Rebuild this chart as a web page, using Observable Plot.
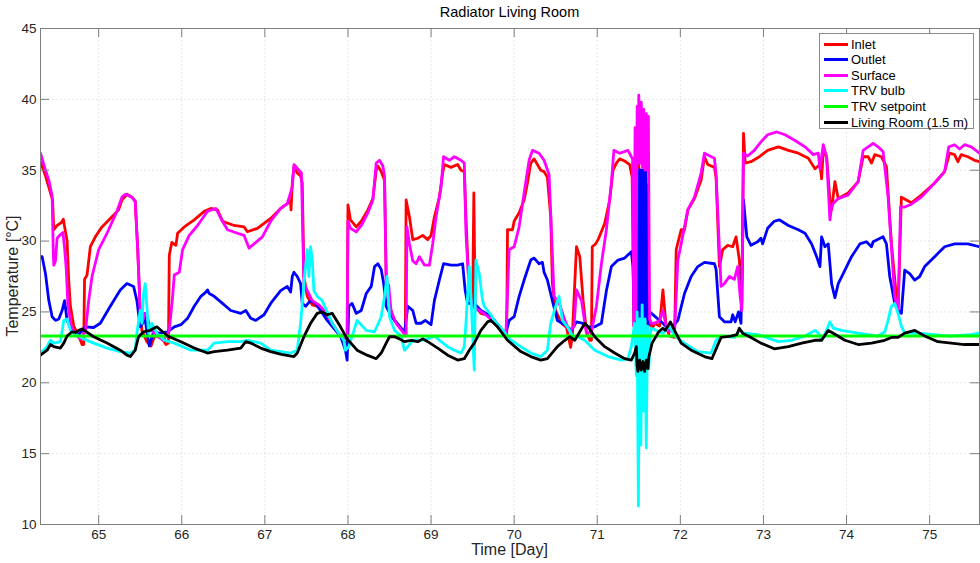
<!DOCTYPE html>
<html>
<head>
<meta charset="utf-8">
<script src="https://cdn.jsdelivr.net/npm/d3@7"></script>
<script src="https://cdn.jsdelivr.net/npm/@observablehq/plot@0.6"></script>
<style>
  html, body { margin: 0; padding: 0; background: #fff; }
  #wrap { position: relative; width: 980px; height: 563px; font-family: "Liberation Sans", Arial, Helvetica, sans-serif; }
  #chart { position: absolute; left: 0; top: 0; }
  .title { position: absolute; left: 40px; width: 939px; top: 4px; text-align: center; font-size: 14.5px; color: #000; }
  .xlabel { position: absolute; left: 40px; width: 939px; top: 541px; text-align: center; font-size: 16px; color: #262626; }
  .ylabel { position: absolute; left: 13px; top: 276px; transform: translate(-50%, -50%) rotate(-90deg); white-space: nowrap; font-size: 16px; color: #262626; }
  .legend { position: absolute; left: 819px; top: 33px; width: 155px; height: 96px; background: #fff; border: 1px solid #8c8c8c; box-sizing: border-box; }
  .legend .row { position: absolute; left: 4px; height: 16px; display: flex; align-items: center; font-size: 13px; color: #000; white-space: nowrap; }
  .legend .sw { width: 24px; height: 3px; margin-right: 3px; }
</style>
</head>
<body>
<div id="wrap">
  <div id="chart"></div>
  <div class="title">Radiator Living Room</div>
  <div class="xlabel">Time [Day]</div>
  <div class="ylabel">Temperature [°C]</div>
  <div class="legend" id="legend"></div>
</div>
<script>
// ---- data (day, °C) ----
const xTicks = [65, 66, 67, 68, 69, 70, 71, 72, 73, 74, 75];
const yTicks = [10, 15, 20, 25, 30, 35, 40, 45];
const seriesNames = ["Inlet", "Outlet", "Surface", "TRV bulb", "TRV setpoint", "Living Room (1.5 m)"];
const seriesColors = ["#ff0000", "#0000ff", "#ff00ff", "#00ffff", "#00ff00", "#000000"];

const inlet = [[64.30,35.6],[64.36,34.6],[64.42,33.4],[64.445,32.9],[64.46,30.8],[64.50,31.1],[64.55,31.3],[64.575,31.55],[64.59,31.0],[64.62,30.0],[64.64,27.2],[64.66,25.4],[64.70,24.0],[64.76,23.3],[64.80,22.7],[64.82,22.7],[64.83,27.3],[64.86,27.6],[64.90,29.6],[64.96,30.3],[65.04,31.0],[65.14,31.6],[65.24,32.2],[65.28,32.9],[65.34,33.3],[65.40,33.1],[65.44,32.8],[65.47,29.4],[65.50,25.1],[65.52,23.7],[65.58,22.9],[65.63,22.6],[65.67,23.25],[65.73,23.3],[65.79,22.9],[65.81,22.7],[65.84,22.8],[65.85,29.0],[65.88,29.9],[65.93,29.7],[65.95,30.55],[66.03,31.0],[66.15,31.5],[66.27,32.1],[66.35,32.3],[66.43,32.2],[66.49,31.4],[66.63,31.1],[66.75,31.0],[66.79,30.66],[66.91,30.9],[67.07,31.6],[67.19,32.3],[67.25,32.55],[67.31,32.8],[67.315,32.2],[67.33,34.1],[67.35,35.25],[67.39,34.8],[67.43,34.6],[67.45,34.1],[67.47,27.5],[67.51,26.1],[67.57,25.5],[67.63,25.4],[67.69,25.1],[67.75,24.66],[67.81,24.2],[67.87,23.6],[67.93,23.1],[67.97,22.8],[67.99,22.8],[68.00,32.55],[68.03,31.5],[68.10,31.0],[68.16,31.4],[68.24,32.2],[68.30,33.0],[68.34,35.0],[68.36,35.3],[68.40,34.9],[68.44,34.3],[68.46,27.5],[68.50,25.4],[68.56,24.4],[68.64,23.85],[68.69,23.6],[68.70,32.9],[68.74,31.7],[68.78,30.1],[68.84,30.2],[68.90,30.4],[68.96,30.1],[69.00,30.4],[69.04,31.7],[69.10,33.1],[69.14,34.8],[69.16,35.4],[69.24,35.2],[69.32,35.4],[69.36,35.0],[69.40,34.9],[69.42,31.7],[69.46,26.1],[69.50,25.4],[69.515,33.4],[69.53,25.4],[69.60,24.9],[69.72,24.7],[69.80,23.95],[69.88,23.5],[69.91,23.3],[69.92,30.8],[69.98,30.8],[70.00,31.4],[70.06,32.0],[70.12,32.9],[70.16,34.1],[70.20,35.5],[70.24,35.8],[70.28,35.4],[70.32,35.0],[70.36,34.9],[70.40,34.5],[70.44,31.7],[70.46,27.0],[70.50,25.1],[70.57,24.2],[70.63,23.9],[70.68,22.5],[70.70,23.3],[70.75,29.6],[70.79,28.9],[70.83,25.8],[70.87,23.6],[70.91,23.0],[70.93,23.0],[70.94,29.6],[70.98,29.8],[71.01,30.1],[71.09,31.25],[71.15,32.9],[71.19,35.0],[71.23,35.5],[71.27,35.8],[71.33,35.65],[71.39,35.4],[71.42,34.5],[71.44,24.0],[71.46,35.0],[71.48,23.5],[71.50,35.5],[71.52,24.0],[71.54,35.0],[71.56,25.0],[71.585,34.5],[71.61,24.0],[71.63,24.5],[71.66,23.8],[71.69,24.2],[71.75,24.0],[71.79,26.55],[71.83,23.95],[71.87,23.3],[71.93,23.2],[71.95,29.4],[72.01,30.8],[72.05,30.8],[72.09,32.2],[72.17,33.0],[72.25,34.3],[72.29,35.95],[72.33,35.4],[72.41,35.2],[72.43,34.5],[72.47,28.2],[72.51,29.4],[72.57,29.7],[72.63,29.6],[72.67,30.3],[72.71,28.66],[72.74,25.6],[72.76,37.6],[72.78,35.5],[72.85,35.6],[72.95,35.95],[73.05,36.4],[73.18,36.65],[73.30,36.4],[73.42,36.2],[73.54,35.85],[73.62,35.1],[73.68,35.4],[73.70,34.4],[73.72,36.4],[73.76,35.95],[73.80,32.9],[73.82,32.2],[73.86,34.2],[73.90,33.0],[74.02,33.4],[74.14,34.2],[74.20,35.95],[74.26,35.95],[74.30,35.5],[74.34,36.1],[74.42,35.95],[74.48,35.25],[74.54,29.8],[74.60,26.1],[74.62,25.1],[74.66,33.1],[74.72,32.9],[74.78,32.7],[74.90,33.25],[75.06,34.1],[75.18,34.9],[75.24,36.2],[75.30,36.1],[75.34,35.6],[75.38,36.1],[75.46,35.95],[75.54,35.7],[75.60,35.6]];

const outlet = [[64.30,28.9],[64.32,28.9],[64.36,27.7],[64.40,25.8],[64.44,24.66],[64.48,24.4],[64.52,24.5],[64.56,25.1],[64.59,25.8],[64.62,24.4],[64.68,23.7],[64.76,23.4],[64.84,23.95],[64.94,23.9],[65.02,24.2],[65.14,25.4],[65.26,26.55],[65.34,27.0],[65.42,26.8],[65.46,25.8],[65.50,23.95],[65.53,24.2],[65.55,24.9],[65.58,23.6],[65.61,22.6],[65.66,23.6],[65.72,23.5],[65.83,23.6],[65.91,23.95],[65.99,24.1],[66.07,24.55],[66.15,25.4],[66.23,26.1],[66.29,26.4],[66.31,26.55],[66.33,26.3],[66.39,26.1],[66.49,25.6],[66.59,25.1],[66.71,24.9],[66.77,25.1],[66.83,24.55],[66.89,24.4],[66.99,24.8],[67.07,25.6],[67.19,26.5],[67.27,26.8],[67.31,26.4],[67.33,27.5],[67.35,27.8],[67.39,27.5],[67.43,27.0],[67.45,25.6],[67.49,25.4],[67.55,25.8],[67.61,25.6],[67.67,25.1],[67.75,24.4],[67.83,23.85],[67.91,23.3],[67.97,22.3],[67.99,21.6],[68.01,25.4],[68.05,25.6],[68.10,24.9],[68.16,25.1],[68.22,26.3],[68.28,26.8],[68.32,28.2],[68.36,28.4],[68.40,28.0],[68.43,27.0],[68.46,25.4],[68.52,24.7],[68.64,23.85],[68.68,23.5],[68.72,25.4],[68.78,25.1],[68.82,24.2],[68.88,24.2],[68.93,24.4],[69.00,24.1],[69.04,25.8],[69.10,27.25],[69.15,28.4],[69.24,28.3],[69.32,28.3],[69.38,28.4],[69.41,26.55],[69.44,25.6],[69.52,25.6],[69.60,25.1],[69.72,24.7],[69.84,23.85],[69.90,23.5],[69.94,24.4],[70.00,24.66],[70.06,26.1],[70.12,27.25],[70.20,28.66],[70.24,28.8],[70.30,28.4],[70.34,28.5],[70.36,27.8],[70.40,27.25],[70.46,25.8],[70.52,24.4],[70.61,24.1],[70.69,23.7],[70.75,24.3],[70.83,24.2],[70.89,23.95],[70.97,23.95],[71.05,24.2],[71.11,26.5],[71.17,28.2],[71.25,28.66],[71.33,28.8],[71.41,29.25],[71.43,28.2],[71.45,24.0],[71.47,33.0],[71.49,24.5],[71.495,35.0],[71.50,24.5],[71.505,35.0],[71.51,24.5],[71.515,35.0],[71.52,24.5],[71.525,35.0],[71.53,24.5],[71.535,35.0],[71.54,24.5],[71.545,35.0],[71.55,24.5],[71.555,35.0],[71.56,24.5],[71.565,35.0],[71.57,24.5],[71.575,35.0],[71.58,24.5],[71.585,35.0],[71.59,24.5],[71.595,34.0],[71.61,24.0],[71.63,25.0],[71.69,24.7],[71.79,24.2],[71.87,23.7],[71.97,24.4],[72.05,26.3],[72.13,27.5],[72.21,28.2],[72.29,28.5],[72.41,28.4],[72.43,28.0],[72.47,24.66],[72.53,24.3],[72.61,24.3],[72.63,24.8],[72.66,24.3],[72.70,25.0],[72.73,24.2],[72.76,32.9],[72.80,30.3],[72.85,29.7],[72.93,29.95],[72.97,30.2],[72.99,29.8],[73.05,30.9],[73.13,31.4],[73.19,31.5],[73.30,31.1],[73.42,30.8],[73.50,30.55],[73.58,29.8],[73.64,28.9],[73.68,28.2],[73.70,30.3],[73.74,29.6],[73.78,29.8],[73.82,27.0],[73.86,26.0],[73.90,27.0],[73.96,27.7],[74.06,28.9],[74.16,29.8],[74.24,29.95],[74.30,29.6],[74.32,29.95],[74.44,30.3],[74.48,29.8],[74.52,27.5],[74.58,25.6],[74.62,25.1],[74.66,24.9],[74.70,27.95],[74.76,27.7],[74.82,27.25],[74.88,27.5],[74.94,28.2],[75.06,28.9],[75.18,29.6],[75.30,29.8],[75.46,29.8],[75.60,29.6]];

const surface = [[64.30,36.2],[64.36,35.0],[64.40,34.3],[64.44,33.2],[64.455,29.0],[64.46,28.3],[64.48,28.6],[64.50,30.2],[64.53,30.4],[64.57,30.6],[64.59,29.5],[64.61,28.0],[64.63,25.5],[64.67,24.0],[64.72,23.4],[64.78,23.1],[64.84,23.6],[64.88,25.8],[64.92,27.5],[65.00,29.4],[65.10,30.55],[65.22,32.1],[65.28,33.1],[65.32,33.3],[65.40,33.1],[65.44,32.8],[65.47,29.4],[65.50,24.9],[65.53,24.4],[65.56,24.9],[65.58,24.8],[65.62,23.8],[65.70,23.3],[65.78,23.0],[65.85,23.7],[65.89,26.1],[65.91,27.6],[65.97,27.8],[66.01,29.4],[66.09,30.4],[66.19,31.1],[66.31,32.1],[66.41,32.3],[66.49,31.4],[66.55,30.8],[66.67,30.55],[66.75,30.4],[66.81,29.5],[66.87,29.8],[66.97,30.3],[67.07,31.4],[67.11,31.7],[67.19,32.3],[67.27,32.65],[67.33,33.8],[67.35,35.4],[67.41,35.0],[67.44,34.8],[67.47,27.0],[67.51,26.5],[67.57,25.8],[67.65,25.5],[67.73,25.0],[67.81,24.2],[67.89,23.5],[67.97,23.1],[67.99,23.1],[68.00,31.4],[68.03,30.9],[68.10,30.65],[68.16,31.1],[68.24,32.0],[68.30,32.9],[68.34,35.5],[68.38,35.7],[68.42,35.3],[68.44,34.6],[68.46,27.0],[68.49,26.9],[68.52,25.0],[68.58,24.2],[68.66,23.6],[68.70,23.3],[68.71,31.0],[68.74,29.8],[68.78,28.6],[68.82,28.4],[68.86,28.9],[68.92,28.3],[68.98,28.3],[69.02,29.8],[69.06,31.7],[69.12,33.8],[69.15,35.95],[69.22,35.7],[69.28,35.95],[69.36,35.7],[69.40,35.5],[69.42,30.55],[69.46,26.5],[69.50,25.4],[69.58,25.1],[69.68,24.7],[69.81,23.95],[69.90,23.3],[69.94,29.4],[70.00,29.6],[70.06,31.0],[70.12,33.4],[70.18,35.7],[70.22,36.4],[70.30,36.2],[70.36,35.7],[70.42,34.7],[70.45,30.55],[70.48,26.1],[70.55,25.5],[70.61,24.4],[70.67,23.6],[70.72,24.0],[70.75,26.55],[70.81,25.8],[70.87,23.5],[70.93,23.6],[70.99,25.4],[71.05,28.4],[71.11,30.8],[71.17,34.1],[71.20,36.4],[71.27,36.2],[71.37,36.4],[71.41,35.95],[71.425,35.8],[71.44,24.0],[71.455,38.0],[71.465,24.5],[71.48,39.5],[71.49,35.5],[71.50,40.3],[71.515,35.5],[71.53,39.8],[71.545,35.2],[71.56,39.3],[71.575,35.0],[71.59,39.0],[71.605,35.0],[71.615,38.8],[71.63,24.5],[71.645,24.2],[71.69,24.2],[71.75,24.4],[71.79,25.1],[71.84,23.7],[71.93,23.6],[71.97,28.66],[72.01,29.8],[72.09,32.2],[72.17,33.1],[72.25,34.8],[72.29,36.2],[72.41,35.85],[72.43,34.7],[72.49,26.8],[72.53,27.0],[72.59,27.5],[72.65,27.3],[72.69,28.2],[72.72,26.1],[72.74,25.1],[72.76,36.2],[72.81,36.0],[72.89,36.4],[72.97,37.0],[73.05,37.5],[73.16,37.7],[73.26,37.5],[73.38,37.1],[73.50,36.65],[73.60,36.1],[73.66,36.2],[73.68,35.1],[73.72,36.8],[73.76,35.95],[73.80,31.5],[73.82,32.4],[73.84,32.65],[73.90,33.0],[74.02,33.25],[74.14,34.2],[74.20,36.4],[74.26,36.65],[74.32,36.9],[74.38,36.65],[74.44,36.3],[74.50,33.1],[74.58,26.1],[74.62,25.1],[74.65,32.4],[74.70,32.4],[74.78,32.6],[74.90,33.1],[75.06,34.1],[75.18,34.9],[75.23,36.65],[75.30,36.8],[75.36,36.5],[75.42,36.8],[75.50,36.65],[75.60,36.2]];

const trvBulb = [[64.30,22.1],[64.38,22.55],[64.42,23.0],[64.46,22.8],[64.54,22.9],[64.58,24.4],[64.62,24.5],[64.66,23.7],[64.70,23.5],[64.82,23.1],[64.94,22.8],[65.10,22.45],[65.26,22.2],[65.38,22.1],[65.44,22.3],[65.46,23.5],[65.50,25.1],[65.52,24.2],[65.54,26.3],[65.56,27.0],[65.58,25.4],[65.60,23.5],[65.64,24.2],[65.70,23.5],[65.79,23.0],[65.91,22.8],[66.11,22.3],[66.31,22.3],[66.39,22.8],[66.55,22.9],[66.71,22.9],[66.79,23.0],[66.95,22.8],[67.07,22.3],[67.19,22.2],[67.31,22.1],[67.39,22.3],[67.43,24.2],[67.47,27.0],[67.51,29.4],[67.53,27.5],[67.55,29.6],[67.57,28.7],[67.59,26.5],[67.63,26.1],[67.69,25.8],[67.75,25.0],[67.81,24.2],[67.89,23.5],[67.95,23.0],[67.97,22.3],[68.01,22.55],[68.11,24.4],[68.22,23.7],[68.32,23.6],[68.40,24.66],[68.44,26.1],[68.47,27.5],[68.50,24.66],[68.56,23.7],[68.64,23.3],[68.68,22.3],[68.72,22.55],[68.78,23.0],[68.88,23.0],[68.96,23.1],[69.04,23.3],[69.12,22.9],[69.20,22.55],[69.28,22.3],[69.36,22.1],[69.40,22.55],[69.42,24.2],[69.46,28.2],[69.48,26.1],[69.52,20.9],[69.54,28.66],[69.58,27.7],[69.62,25.8],[69.64,25.4],[69.72,24.8],[69.76,24.4],[69.88,23.6],[69.94,23.1],[70.08,22.55],[70.20,22.1],[70.32,21.85],[70.40,22.3],[70.44,24.2],[70.50,25.4],[70.54,26.1],[70.58,24.4],[70.64,23.95],[70.71,23.25],[70.77,23.25],[70.85,23.0],[70.97,22.3],[71.13,21.85],[71.29,21.6],[71.37,21.7],[71.41,22.55],[71.45,24.2],[71.47,20.5],[71.48,25.0],[71.495,11.3],[71.51,24.5],[71.525,15.6],[71.54,25.5],[71.56,18.0],[71.575,24.5],[71.59,15.4],[71.605,24.0],[71.62,21.0],[71.64,23.5],[71.65,23.85],[71.79,23.5],[71.87,24.0],[71.93,23.3],[72.05,22.8],[72.21,22.2],[72.37,22.1],[72.43,23.0],[72.49,23.3],[72.65,23.2],[72.71,23.7],[72.77,23.5],[72.93,23.4],[73.18,22.9],[73.34,23.0],[73.50,23.3],[73.62,23.7],[73.66,23.5],[73.70,23.0],[73.76,23.7],[73.80,24.3],[73.84,23.85],[73.94,23.7],[74.14,23.5],[74.38,23.3],[74.46,23.6],[74.50,24.4],[74.54,25.4],[74.58,25.6],[74.62,24.9],[74.66,24.0],[74.70,23.5],[74.86,23.5],[75.06,23.4],[75.26,23.3],[75.50,23.4],[75.60,23.5]];

const trvSetpoint = [[64.30,23.3],[75.60,23.3]];

const livingRoom = [[64.30,21.95],[64.38,22.3],[64.42,22.7],[64.46,22.55],[64.54,22.45],[64.58,22.8],[64.62,23.3],[64.68,23.6],[64.72,23.55],[64.76,23.7],[64.80,23.8],[64.94,23.25],[65.10,22.8],[65.26,22.3],[65.34,21.95],[65.38,21.85],[65.44,22.3],[65.48,23.25],[65.54,23.6],[65.62,23.7],[65.70,23.95],[65.77,23.6],[65.83,23.3],[65.99,22.9],[66.15,22.45],[66.31,22.1],[66.39,22.2],[66.55,22.3],[66.71,22.45],[66.77,22.9],[66.83,22.8],[66.95,22.45],[67.07,22.2],[67.20,22.0],[67.35,21.85],[67.39,22.1],[67.47,23.25],[67.55,24.2],[67.63,24.9],[67.69,25.0],[67.75,24.8],[67.81,24.9],[67.91,23.95],[67.99,23.1],[68.11,22.3],[68.23,21.95],[68.34,21.7],[68.40,22.1],[68.46,22.8],[68.50,23.25],[68.56,23.25],[68.62,23.1],[68.68,22.9],[68.76,23.0],[68.84,22.9],[68.90,23.1],[68.96,22.9],[69.08,22.45],[69.20,21.95],[69.32,21.6],[69.40,21.7],[69.46,22.3],[69.52,22.8],[69.60,23.7],[69.68,24.3],[69.72,24.4],[69.80,23.95],[69.92,23.0],[70.08,22.2],[70.20,21.85],[70.32,21.6],[70.40,21.7],[70.52,22.55],[70.61,23.0],[70.67,23.25],[70.73,23.0],[70.79,23.6],[70.85,24.2],[70.89,23.95],[70.97,23.25],[71.09,22.55],[71.21,22.1],[71.33,21.7],[71.41,21.6],[71.45,22.1],[71.47,22.55],[71.48,21.2],[71.49,20.8],[71.51,21.6],[71.53,20.9],[71.55,21.5],[71.57,20.8],[71.59,21.6],[71.61,21.0],[71.62,21.8],[71.66,22.8],[71.74,23.6],[71.79,23.85],[71.82,23.7],[71.88,24.3],[71.93,23.7],[72.01,22.8],[72.13,22.3],[72.29,21.85],[72.38,21.7],[72.46,22.8],[72.49,23.2],[72.61,23.3],[72.68,23.4],[72.71,23.85],[72.75,23.5],[72.85,23.2],[72.97,22.8],[73.13,22.4],[73.30,22.55],[73.46,22.8],[73.62,23.0],[73.70,23.0],[73.78,23.7],[73.84,23.5],[73.98,23.0],[74.14,22.7],[74.30,22.8],[74.46,23.0],[74.54,23.2],[74.62,23.2],[74.70,23.5],[74.82,23.7],[74.94,23.3],[75.10,22.9],[75.26,22.8],[75.42,22.7],[75.60,22.7]];

const allSeries = [inlet, outlet, surface, trvBulb, trvSetpoint, livingRoom];

// ---- layout ----
const W = 980, H = 563;
const mL = 40, mR = 1, mT = 28, mB = 39;
const innerW = W - mL - mR, innerH = H - mT - mB;
const tickLen = 9;
const axisGray = "#7f7f7f";

const lineMarks = allSeries.map((data, i) =>
  Plot.line(data, {x: d => d[0], y: d => d[1], stroke: seriesColors[i], strokeWidth: 2.8, clip: true})
);

const chart = Plot.plot({
  width: W, height: H,
  marginLeft: mL, marginRight: mR, marginTop: mT, marginBottom: mB,
  style: {fontFamily: '"Liberation Sans", Arial, Helvetica, sans-serif', fontSize: "13.5px", background: "#fff"},
  x: {domain: [64.3, 75.6]},
  y: {domain: [10, 45]},
  marks: [
    Plot.gridX(xTicks, {stroke: "#dedede", strokeOpacity: 1, strokeDasharray: "1.5,2.5"}),
    Plot.gridY(yTicks, {stroke: "#dedede", strokeOpacity: 1, strokeDasharray: "1.5,2.5"}),
    ...lineMarks,
    Plot.tickX(xTicks, {x: d => d, insetTop: innerH - tickLen, stroke: axisGray}),
    Plot.tickX(xTicks, {x: d => d, insetBottom: innerH - tickLen, stroke: axisGray}),
    Plot.tickY(yTicks, {y: d => d, insetRight: innerW - tickLen, stroke: axisGray}),
    Plot.tickY(yTicks, {y: d => d, insetLeft: innerW - tickLen, stroke: axisGray}),
    Plot.frame({stroke: axisGray}),
    Plot.axisX({ticks: xTicks, tickSize: 0, tickPadding: 5, label: null, fill: "#262626", tickFormat: d => String(d)}),
    Plot.axisY({ticks: yTicks, tickSize: 0, tickPadding: 4, label: null, fill: "#262626", tickFormat: d => String(d)})
  ]
});
document.getElementById("chart").appendChild(chart);

// ---- legend ----
const legend = document.getElementById("legend");
seriesNames.forEach((name, i) => {
  const row = document.createElement("div");
  row.className = "row";
  row.style.top = (2 + i * 15.6) + "px";
  const sw = document.createElement("div");
  sw.className = "sw";
  sw.style.background = seriesColors[i];
  const t = document.createElement("span");
  t.textContent = name;
  row.appendChild(sw);
  row.appendChild(t);
  legend.appendChild(row);
});
</script>
</body>
</html>
